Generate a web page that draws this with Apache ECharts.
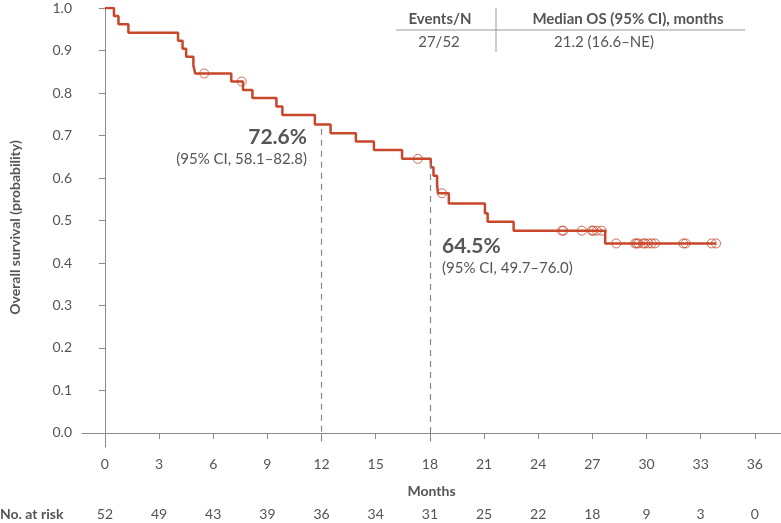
<!DOCTYPE html>
<html><head><meta charset="utf-8">
<script src="https://cdn.jsdelivr.net/npm/echarts@6/dist/echarts.min.js"></script>
<style>html,body{margin:0;padding:0;background:#fff}#c{width:781px;height:523px}</style>
</head><body><div id="c"></div>
<script>
const eventTimes = [0.5,0.75,1.3,4.05,4.3,4.5,4.9,5.0,7.0,7.65,8.17,9.5,9.83,11.63,12.5,13.9,14.9,16.46,18.05,18.2,18.4,18.45,19.05,21.05,21.2,22.64,27.71];
const survival = [0.981,0.962,0.942,0.923,0.904,0.885,0.865,0.846,0.827,0.807,0.788,0.768,0.748,0.726,0.705,0.686,0.666,0.645,0.625,0.605,0.584,0.564,0.540,0.517,0.497,0.476,0.446];
const censorTimes = [5.5,7.58,17.33,18.67,25.31,25.4,26.42,26.97,27.06,27.25,27.52,28.32,29.37,29.46,29.55,29.82,29.92,30.1,30.29,30.47,32.04,32.17,33.61,33.85];
const endTime = 33.85;
const xTicks = [0,3,6,9,12,15,18,21,24,27,30,33,36];
const yTicks = [0,0.1,0.2,0.3,0.4,0.5,0.6,0.7,0.8,0.9,1.0];
const atRisk = [52,49,43,39,36,34,31,25,22,18,9,3,0];
const landmarks = [
  {t:12, s:0.726, pct:'72.6%', ci:'(95% CI, 58.1–82.8)'},
  {t:18, s:0.645, pct:'64.5%', ci:'(95% CI, 49.7–76.0)'}
];
const tableHead = ['Events/N','Median OS (95% CI), months'];
const tableRow = ['27/52','21.2 (16.6–NE)'];

const LINE = '#c8462a', TXT = '#555', AX = '#8a8a8a', FONT = 'Lato';
function S(t){let v=1;for(let i=0;i<eventTimes.length;i++){if(eventTimes[i]<=t)v=survival[i];}return v;}
const lineData = [[0,1]];
eventTimes.forEach((t,i)=>lineData.push([t,survival[i]]));
lineData.push([endTime, S(endTime)]);
const censorData = censorTimes.map(t=>[t,S(t)]);

const chart = echarts.init(document.getElementById('c'));
chart.setOption({
  animation:false,
  textStyle:{fontFamily:FONT},
  grid:{left:81,right:0,top:8,bottom:76},
  xAxis:[{
    type:'value',min:-1.27,max:37.45,
    axisLine:{lineStyle:{color:AX,width:1}},
    axisTick:{customValues:xTicks,length:6,lineStyle:{color:AX}},
    axisLabel:{customValues:xTicks,color:TXT,fontSize:14,margin:10,fontFamily:FONT},
    splitLine:{show:false},
    name:'Months',nameLocation:'middle',nameGap:37,
    nameTextStyle:{color:TXT,fontSize:14,fontWeight:'bold',fontFamily:FONT}
  },{
    type:'value',min:-1.27,max:37.45,position:'bottom',offset:60,
    axisLine:{show:false},axisTick:{show:false},splitLine:{show:false},
    axisLabel:{customValues:xTicks,color:TXT,fontSize:14,margin:0,verticalAlign:'top',fontFamily:FONT,
      formatter:v=>{const i=xTicks.indexOf(v);return i>=0?String(atRisk[i]):'';}}
  }],
  yAxis:{
    type:'value',min:-0.033,max:1,
    axisLine:{show:true,lineStyle:{color:AX,width:1}},
    axisTick:{show:true,customValues:yTicks,length:6,lineStyle:{color:AX}},
    axisLabel:{customValues:yTicks,color:TXT,fontSize:14,margin:10,fontFamily:FONT,formatter:v=>v.toFixed(1)},
    splitLine:{show:false},
    name:'Overall survival (probability)',nameLocation:'middle',nameGap:60,
    nameTextStyle:{color:TXT,fontSize:14,fontWeight:'bold',fontFamily:FONT}
  },
  series:[{
    type:'line',step:'end',data:lineData,showSymbol:false,symbol:'none',
    lineStyle:{color:LINE,width:2.5},
    markLine:{silent:true,symbol:'none',label:{show:false},
      lineStyle:{color:'#888',type:[6,5],width:1.2},
      data:landmarks.map(l=>[{coord:[l.t,l.s-0.01]},{coord:[l.t,-0.02]}])}
  },{
    type:'scatter',data:censorData,symbol:'circle',symbolSize:9,
    itemStyle:{color:'rgba(255,255,255,0)',borderColor:LINE,borderWidth:1}
  }],
  graphic:[
    {type:'text',left:0,top:507,style:{text:'No. at risk',fill:TXT,font:'bold 14px '+FONT}},
    {type:'text',right:474,top:127,style:{text:landmarks[0].pct,fill:TXT,font:'bold 21px '+FONT,textAlign:'right'}},
    {type:'text',right:474,top:152,style:{text:landmarks[0].ci,fill:TXT,font:'15px '+FONT}},
    {type:'text',left:442,top:236,style:{text:landmarks[1].pct,fill:TXT,font:'bold 21px '+FONT}},
    {type:'text',left:442,top:261,style:{text:landmarks[1].ci,fill:TXT,font:'15px '+FONT}},
    {type:'line',shape:{x1:396,y1:30,x2:745,y2:30},style:{stroke:'#999',lineWidth:1}},
    {type:'line',shape:{x1:496,y1:8,x2:496,y2:52},style:{stroke:'#999',lineWidth:1}},
    {type:'text',x:440,y:19,style:{text:tableHead[0],fill:TXT,font:'bold 15px '+FONT,align:'center',verticalAlign:'middle'}},
    {type:'text',x:628,y:19,style:{text:tableHead[1],fill:TXT,font:'bold 15px '+FONT,align:'center',verticalAlign:'middle'}},
    {type:'text',x:439,y:42,style:{text:tableRow[0],fill:TXT,font:'15px '+FONT,align:'center',verticalAlign:'middle'}},
    {type:'text',x:604,y:42,style:{text:tableRow[1],fill:TXT,font:'15px '+FONT,align:'center',verticalAlign:'middle'}}
  ]
});
</script></body></html>
